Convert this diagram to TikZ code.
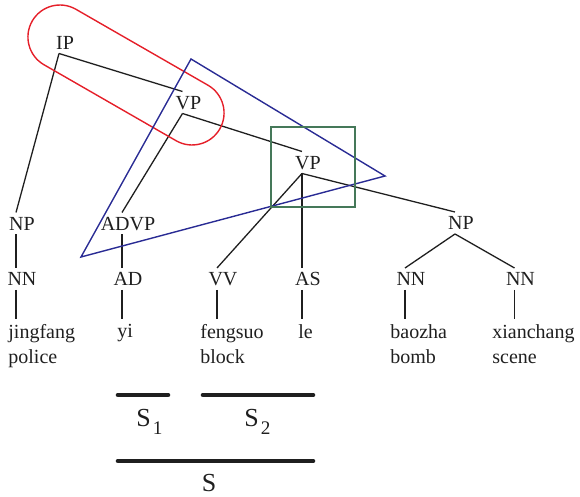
\documentclass[tikz,border=0pt]{standalone}
\usepackage{fontspec}
\setmainfont{Liberation Serif}
\usepackage{tikz}
\definecolor{ringred}{rgb}{0.90,0.12,0.16}
\definecolor{trinavy}{rgb}{0.16,0.17,0.58}
\definecolor{boxgreen}{rgb}{0.27,0.47,0.35}

\begin{document}
\begin{tikzpicture}[x=0.5pt, y=-0.5pt,
  tag/.style={inner xsep=0pt, inner ysep=2pt, text height=6.6pt, text depth=0pt,
              text=black!88, font=\fontsize{10}{12}\selectfont,
              execute at begin node={\kern6pt}},
  word/.style={anchor=north west, inner xsep=0pt, inner ysep=2.5pt, align=left,
               text=black!88, font=\fontsize{10}{12.5}\selectfont},
  edge/.style={line width=0.65pt, color=black!88},
  ring/.style={draw=ringred, line width=0.7pt, rounded corners=16pt,
               minimum width=108.2pt, minimum height=32pt, inner sep=0pt},
  tri/.style={draw=trinavy, line width=0.7pt},
  frame/.style={draw=boxgreen, line width=0.7pt},
  bar/.style={line width=2.3pt, line cap=round, color=black!88},
  span/.style={anchor=base, inner sep=0pt, text=black!88, font=\fontsize{13}{15}\selectfont}
]
\useasboundingbox (0,0) rectangle (580,497);

% phrase labels
\node[tag] (ip)   at (59,42.5)   {IP};
\node[tag] (vp1)  at (182.5,102.5) {VP};
\node[tag] (vp2)  at (302,162.5) {VP};
\node[tag] (np1)  at (16,223.5)  {NP};
\node[tag] (advp) at (122,223.5) {ADVP};
\node[tag] (np2)  at (455,223)   {NP};

% POS tags
\node[tag] (nn1) at (16,279)    {NN};
\node[tag] (ad)  at (122,279)   {AD};
\node[tag] (vv)  at (217,279)   {VV};
\node[tag] (as)  at (302,279)   {AS};
\node[tag] (nn2) at (405,279)   {NN};
\node[tag] (nn3) at (514.5,279) {NN};

% words
\node[word] (jing) at (8,319)   {jingfang\\police};
\node[word] (yi)   at (117,319) {yi};
\node[word] (feng) at (200,319) {fengsuo\\block};
\node[word] (le)   at (298,319) {le};
\node[word] (bao)  at (390,319) {baozha\\bomb};
\node[word] (xian) at (492,319) {xianchang\\scene};

% tree branches
\draw[edge] (ip.south) -- (np1.north);
\draw[edge] (ip.south) -- (vp1.north);
\draw[edge] (vp1.south) -- (advp.north);
\draw[edge] (vp1.south) -- (vp2.north);
\draw[edge] (vp2.south) -- (vv.north);
\draw[edge] (vp2.south) -- (as.north);
\draw[edge] (vp2.south) -- (np2.north);
\draw[edge] (np1.south) -- (nn1.north);
\draw[edge] (advp.south) -- (ad.north);
\draw[edge] (np2.south) -- (nn2.north);
\draw[edge] (np2.south) -- (nn3.north);

% tag to word
\draw[edge] (nn1.south) -- (nn1.south |- jing.north);
\draw[edge] (ad.south)  -- (ad.south |- yi.north);
\draw[edge] (vv.south)  -- (vv.south |- feng.north);
\draw[edge] (as.south)  -- (as.south |- le.north);
\draw[edge] (nn2.south) -- (nn2.south |- bao.north);
\draw[edge] (nn3.south) -- (nn3.south |- xian.north);

% highlighted fragments
\node[ring, rotate=-29.9] (capsule) at (126,75) {};
\draw[tri] (191,59) -- (385,176) -- (81,257) -- cycle;
\draw[frame] (271,127) rectangle (355,207);

% spans
\coordinate (s1l) at (118,395);
\coordinate (s1r) at (168,395);
\coordinate (s2l) at (203,395);
\coordinate (s2r) at (313,395);
\coordinate (sl)  at (118,461);
\coordinate (sr)  at (313,461);
\draw[bar] (s1l) -- (s1r);
\draw[bar] (s2l) -- (s2r);
\draw[bar] (sl) -- (sr);
\node[span] (s1) at (149.5,427) {S\kern1pt\raisebox{-4pt}{\fontsize{9.6}{10}\selectfont 1}};
\node[span] (s2) at (257.5,427) {S\kern1pt\raisebox{-4pt}{\fontsize{9.6}{10}\selectfont 2}};
\node[span] (s)  at (209,492)   {S};
\end{tikzpicture}
\end{document}
